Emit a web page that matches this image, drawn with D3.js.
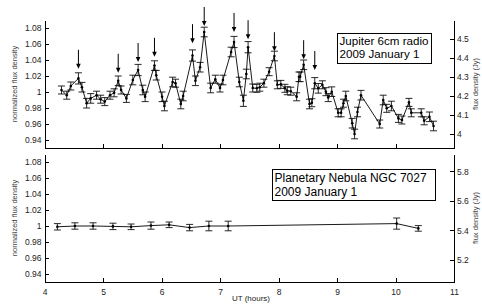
<!DOCTYPE html>
<html>
<head>
<meta charset="utf-8">
<script src="https://cdn.jsdelivr.net/npm/d3@7"></script>
<style>
body { margin: 0; background: #fff; }
svg { font-family: "Liberation Sans", Arial, sans-serif; display: block; }
.axis path, .axis line { stroke: #000; stroke-width: 1; shape-rendering: crispEdges; }
.axis text { fill: #222; font-size: 8.5px; }
.ylabel { fill: #444; font-size: 7.5px; }
</style>
</head>
<body>
<div id="chart"></div>
<script>
// Jupiter 6cm radio, 2009 January 1 (normalized)
var jupiterHours = [4.29, 4.38, 4.45, 4.58, 4.64, 4.72, 4.79, 4.89, 4.96, 5.03, 5.12, 5.19, 5.26, 5.31, 5.40, 5.51, 5.60, 5.68, 5.72, 5.88,
    5.91, 6.01, 6.05, 6.19, 6.24, 6.33, 6.37, 6.53, 6.58, 6.66, 6.73, 6.84, 6.92, 7.00, 7.05, 7.19, 7.24, 7.33, 7.40, 7.45,
    7.48, 7.56, 7.63, 7.68, 7.75, 7.84, 7.93, 7.98, 8.04, 8.11, 8.15, 8.21, 8.31, 8.35, 8.37, 8.43, 8.53, 8.57, 8.62, 8.68,
    8.75, 8.81, 8.85, 8.91, 9.02, 9.07, 9.11, 9.15, 9.26, 9.30, 9.35, 9.41, 9.73, 9.79, 9.85, 9.93, 10.05, 10.11, 10.23, 10.27,
    10.44, 10.49, 10.58, 10.65];
var jupiterFlux = [1.0025, 0.996, 1.0075, 1.017, 1.006, 0.986, 0.992, 0.996, 0.991, 0.988, 0.996, 0.999, 1.014, 1.0025, 0.992, 1.015, 1.0275, 1.0025, 0.994, 1.033,
    1.021, 0.994, 0.9825, 1.0125, 1.011, 0.985, 0.995, 1.0456, 1.014, 1.031, 1.075, 1.005, 1.016, 1.005, 1.015, 1.05, 1.0625, 1.0125, 0.989, 1.0225,
    1.056, 1.005, 1.0046, 1.006, 1.011, 1.0254, 1.045, 1.009, 1.0095, 1.0046, 1.0016, 1.001, 0.994, 1.019, 1.019, 1.034, 0.985, 0.9866, 1.011, 1.0046,
    1.009, 1.0004, 0.993, 1.0004, 0.974, 0.974, 0.986, 0.995, 0.961, 0.9475, 0.975, 0.996, 0.960, 0.990, 0.9796, 0.9825, 0.967, 0.965, 0.987, 0.974,
    0.974, 0.964, 0.969, 0.9575];
var jupiterErr = [0.005, 0.005, 0.005, 0.007, 0.006, 0.006, 0.006, 0.005, 0.005, 0.005, 0.005, 0.005, 0.006, 0.005, 0.005, 0.006, 0.007, 0.006, 0.006, 0.006,
    0.006, 0.006, 0.006, 0.006, 0.005, 0.006, 0.006, 0.007, 0.006, 0.006, 0.006, 0.006, 0.005, 0.005, 0.006, 0.006, 0.007, 0.006, 0.007, 0.006,
    0.007, 0.005, 0.005, 0.005, 0.005, 0.005, 0.006, 0.005, 0.005, 0.005, 0.005, 0.005, 0.005, 0.006, 0.006, 0.006, 0.006, 0.005, 0.007, 0.006,
    0.005, 0.005, 0.005, 0.006, 0.005, 0.005, 0.005, 0.006, 0.006, 0.006, 0.006, 0.006, 0.005, 0.006, 0.005, 0.006, 0.005, 0.005, 0.005, 0.005,
    0.005, 0.005, 0.006, 0.006];

// arrows marking the flux peaks (hour, normalized value at arrow tip)
var arrowHours = [4.58, 5.26, 5.60, 5.88, 6.53, 6.73, 7.24, 7.48, 7.93, 8.43, 8.62];
var arrowTips = [1.029, 1.024, 1.0375, 1.044, 1.061, 1.0825, 1.075, 1.066, 1.051, 1.041, 1.0275];

// Planetary Nebula NGC 7027 (normalized)
var nebulaHours = [4.22, 4.52, 4.83, 5.17, 5.48, 5.82, 6.13, 6.48, 6.81, 7.14, 10.02, 10.39];
var nebulaFlux = [0.999, 1.0, 1.0, 0.9995, 0.999, 1.0005, 1.0015, 0.998, 1.0, 1.0, 1.003, 0.997];
var nebulaErr = [0.004, 0.004, 0.004, 0.004, 0.0035, 0.0045, 0.0035, 0.004, 0.006, 0.006, 0.007, 0.0035];

// mean flux density (Jy) that the normalized value 1 stands for
var jupiterMeanJy = 4.22;
var nebulaMeanJy = 5.43;

var xTicks = [4, 5, 6, 7, 8, 9, 10, 11];
var normTicks = [0.94, 0.96, 0.98, 1, 1.02, 1.04, 1.06, 1.08];
var jupiterJyTicks = [4, 4.1, 4.2, 4.3, 4.4, 4.5];
var nebulaJyTicks = [5.2, 5.4, 5.6, 5.8];

var W = 482, H = 305;
var svg = d3.select("#chart").append("svg")
    .attr("width", W)
    .attr("height", H);

var Panel = function(options) {
    this.options = options;
    this.setProperties();
    this.draw();
}

Panel.prototype.setProperties = function() {
    var o = this.options;
    this.x = d3.scaleLinear().domain([4, 11]).range([44.5, 454]);
    this.y = d3.scaleLinear().domain([0.93, 1.09]).range([o.bottom, o.top]);
    this.yJy = d3.scaleLinear()
        .domain([0.93 * o.meanJy, 1.09 * o.meanJy])
        .range([o.bottom, o.top]);
    this.points = o.hours.map(function(h, i) {
        return { h: h, v: o.flux[i], e: o.err[i] };
    });
}

Panel.prototype.draw = function() {
    var self = this, o = this.options;
    var g = svg.append("g");
    var x0 = this.x.range()[0], x1 = this.x.range()[1];

    var xAxis = d3.axisBottom(this.x).tickValues(xTicks).tickSizeInner(-4).tickSizeOuter(0)
        .tickPadding(7)
        .tickFormat(o.xLabels ? d3.format("d") : "");
    var gx = g.append("g").attr("class", "axis")
        .attr("transform", "translate(0," + o.bottom + ")")
        .call(xAxis);
    gx.selectAll(".tick").filter(function(d) { return d == 4 || d == 11; }).select("line").remove();

    g.append("g").attr("class", "axis")
        .attr("transform", "translate(" + x0 + ",0)")
        .call(d3.axisLeft(this.y).tickValues(normTicks).tickSizeInner(-4).tickSizeOuter(0)
            .tickPadding(3).tickFormat(d3.format("~g")));

    g.append("g").attr("class", "axis")
        .attr("transform", "translate(" + x1 + ",0)")
        .call(d3.axisRight(this.yJy).tickValues(o.jyTicks).tickSizeInner(-4).tickSizeOuter(0)
            .tickPadding(3).tickFormat(d3.format("~g")));

    var mid = (o.top + o.bottom) / 2;
    g.append("text").attr("class", "ylabel")
        .attr("transform", "translate(17," + mid + ") rotate(-90)")
        .attr("text-anchor", "middle")
        .text("normalized flux density");
    g.append("text").attr("class", "ylabel")
        .attr("transform", "translate(478," + mid + ") rotate(-90)")
        .attr("text-anchor", "middle")
        .text("flux density (Jy)");

    // error bars
    var cap = 3.5;
    var bars = g.append("g").attr("stroke", "#111").attr("stroke-width", 0.9).attr("fill", "none");
    this.points.forEach(function(d) {
        var cx = self.x(d.h), yt = self.y(d.v + d.e), yb = self.y(d.v - d.e);
        bars.append("path")
            .attr("d", "M" + cx + "," + yt + "V" + yb +
                "M" + (cx - cap) + "," + yt + "H" + (cx + cap) +
                "M" + (cx - cap) + "," + yb + "H" + (cx + cap));
    });

    var line = d3.line()
        .x(function(d) { return self.x(d.h); })
        .y(function(d) { return self.y(d.v); });
    g.append("path").datum(this.points)
        .attr("d", line)
        .attr("fill", "none")
        .attr("stroke", "#000")
        .attr("stroke-width", 0.9);

    g.selectAll("circle.pt").data(this.points).enter().append("circle")
        .attr("class", "pt")
        .attr("cx", function(d) { return self.x(d.h); })
        .attr("cy", function(d) { return self.y(d.v); })
        .attr("r", 1.3)
        .attr("fill", "#000");

    if (o.arrows) {
        o.arrows.hours.forEach(function(h, i) {
            var ax = self.x(h), tip = self.y(o.arrows.tips[i]);
            g.append("line")
                .attr("x1", ax).attr("x2", ax)
                .attr("y1", tip - 19).attr("y2", tip - 4)
                .attr("stroke", "#000").attr("stroke-width", 1);
            g.append("path")
                .attr("d", "M" + (ax - 2.3) + "," + (tip - 5) + "L" + (ax + 2.3) + "," + (tip - 5) + "L" + ax + "," + tip + "Z")
                .attr("fill", "#000");
        });
    }

    // legend box
    var b = o.box;
    g.append("rect")
        .attr("x", b.x).attr("y", b.y).attr("width", b.w).attr("height", b.h)
        .attr("fill", "#fff").attr("stroke", "#000").attr("stroke-width", 1)
        .attr("shape-rendering", "crispEdges");
    b.lines.forEach(function(t, i) {
        g.append("text")
            .attr("x", b.x + 2).attr("y", b.y + b.base + i * 13.5)
            .attr("font-size", b.size + "px").attr("fill", "#000")
            .text(t);
    });
}

var jupiterPanel = new Panel({
    top: 20, bottom: 148,
    hours: jupiterHours, flux: jupiterFlux, err: jupiterErr,
    meanJy: jupiterMeanJy, jyTicks: jupiterJyTicks,
    arrows: { hours: arrowHours, tips: arrowTips },
    xLabels: false,
    box: { x: 337.5, y: 33.5, w: 94, h: 30, base: 11, size: 11.6, lines: ["Jupiter 6cm radio", "2009 January 1"] }
});

var nebulaPanel = new Panel({
    top: 154, bottom: 282,
    hours: nebulaHours, flux: nebulaFlux, err: nebulaErr,
    meanJy: nebulaMeanJy, jyTicks: nebulaJyTicks,
    xLabels: true,
    box: { x: 272.5, y: 169.5, w: 163, h: 31, base: 12.5, size: 12, lines: ["Planetary Nebula NGC 7027", "2009 January 1"] }
});

svg.append("text")
    .attr("x", 251).attr("y", 301)
    .attr("text-anchor", "middle")
    .attr("font-size", "8px").attr("fill", "#222")
    .text("UT (hours)");
</script>
</body>
</html>
